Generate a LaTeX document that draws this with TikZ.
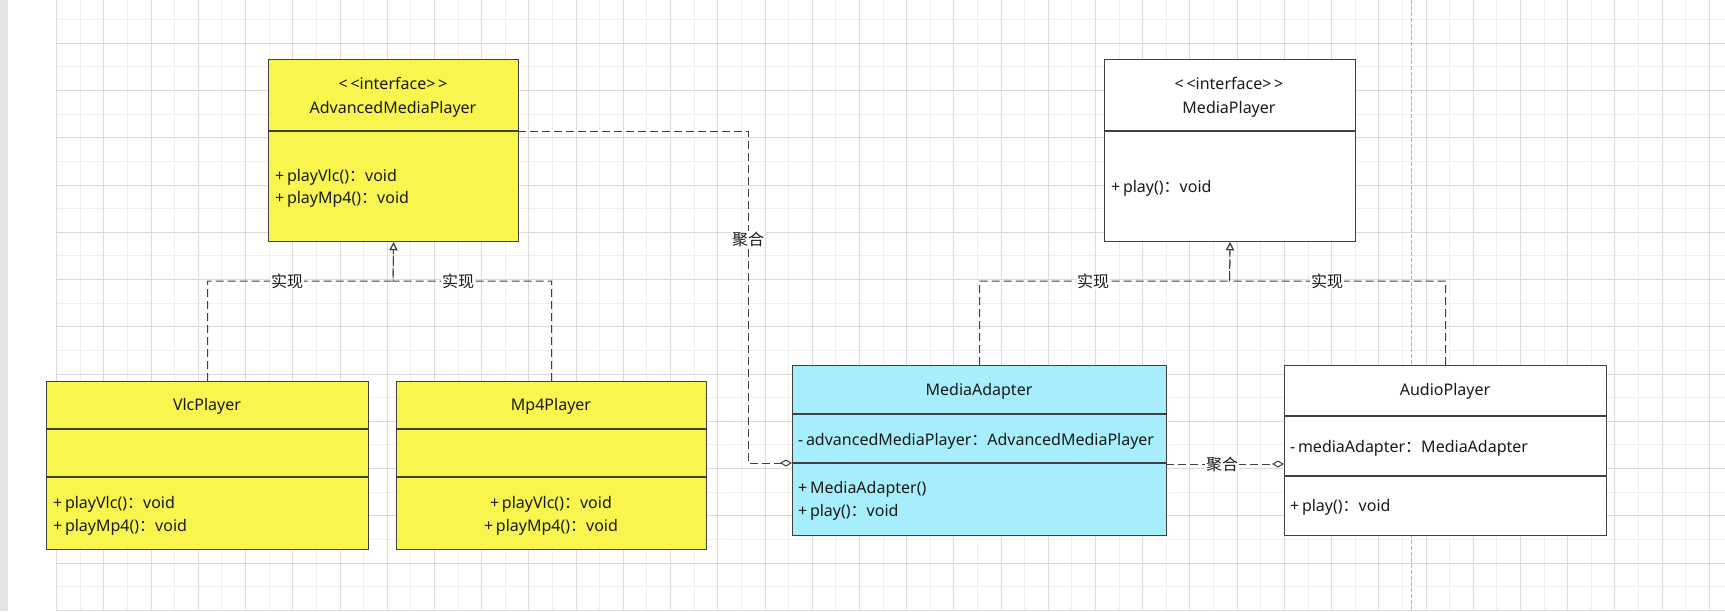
\documentclass[tikz,border=0pt]{standalone}
\usepackage{fontspec}
\setmainfont{Noto Sans}
\newfontfamily\cjk{Noto Sans CJK SC}
\usepackage{tikz}
\usetikzlibrary{arrows.meta}
\definecolor{umlyellow}{HTML}{F9F54F}
\definecolor{umlcyan}{HTML}{A6EEFC}
\definecolor{boxline}{HTML}{404040}
\definecolor{txt}{HTML}{1A1A1A}
\definecolor{gridmajor}{HTML}{DCDCDC}
\definecolor{gridminor}{HTML}{EFEFEF}
\definecolor{pagegray}{HTML}{E4E4E4}
\definecolor{breakgray}{HTML}{B4B4B4}
\newcommand{\fc}{{\cjk ：}}
\tikzset{
	classbox/.style={draw=boxline, line width=1.2pt, anchor=north west, inner sep=0pt},
	divider/.style={draw=boxline, line width=1.2pt},
	classname/.style={inner sep=0pt, text=txt, text height=13pt, text depth=2pt, font=\fontsize{16}{19}\selectfont},
	member/.style={classname, anchor=west},
	impl/.style={draw=boxline, line width=1pt, dash pattern=on 8pt off 4pt, -{Triangle[open, length=8pt, width=8pt]}},
	aggr/.style={draw=boxline, line width=1pt, dash pattern=on 8pt off 4pt, -{Diamond[open, length=12pt, width=7pt]}},
	lbl/.style={fill=white, inner sep=1pt, text=txt, font=\cjk\fontsize{16}{19}\selectfont}
}
\begin{document}
\begin{tikzpicture}[x=1pt, y=-1pt]
		\useasboundingbox (0,0) rectangle (1725,611);
		\fill[white] (0,0) rectangle (1725,611);
		\fill[pagegray] (0,0) rectangle (8,611);
		\foreach \i in {0,...,70} \draw[gridminor, line width=1pt] ({56.7+23.61*\i},0) -- ({56.7+23.61*\i},611);
		\foreach \j in {0,...,25} \draw[gridminor, line width=1pt] (56.7,{19.7+23.625*\j}) -- (1725,{19.7+23.625*\j});
		\foreach \i in {0,...,35} \draw[gridmajor, line width=1pt] ({56.7+47.22*\i},0) -- ({56.7+47.22*\i},611);
		\foreach \j in {0,...,12} \draw[gridmajor, line width=1pt] (56.7,{43.3+47.25*\j}) -- (1725,{43.3+47.25*\j});
		\draw[breakgray, line width=1pt, dash pattern=on 4pt off 2pt] (1411,0) -- (1411,611);

		% AdvancedMediaPlayer
		\node[classbox, fill=umlyellow, minimum width=250pt, minimum height=182pt] (amp) at (268,59) {};
		\draw[divider] (268,131) -- (518,131);
		\node[classname] (ampstereo) at (393,84) {<\,<interface>\,>};
		\node[classname] (ampname) at (393,108) {AdvancedMediaPlayer};
		\node[member] (ampvlc) at (275,176) {+\,playVlc()\fc void};
		\node[member] (ampmp4) at (275,198) {+\,playMp4()\fc void};

		% MediaPlayer
		\node[classbox, fill=white, minimum width=251pt, minimum height=182pt] (mp) at (1104,59) {};
		\draw[divider] (1104,131) -- (1355,131);
		\node[classname] (mpstereo) at (1229,84) {<\,<interface>\,>};
		\node[classname] (mpname) at (1229,108) {MediaPlayer};
		\node[member] (mpplay) at (1111,187) {+\,play()\fc void};

		% VlcPlayer
		\node[classbox, fill=umlyellow, minimum width=322pt, minimum height=168pt] (vlc) at (46,381) {};
		\draw[divider] (46,429) -- (368,429);
		\draw[divider] (46,477) -- (368,477);
		\node[classname] (vlcname) at (207,405) {VlcPlayer};
		\node[member] (vlcvlc) at (53,503) {+\,playVlc()\fc void};
		\node[member] (vlcmp4) at (53,526) {+\,playMp4()\fc void};

		% Mp4Player
		\node[classbox, fill=umlyellow, minimum width=310pt, minimum height=168pt] (mpf) at (396,381) {};
		\draw[divider] (396,429) -- (706,429);
		\draw[divider] (396,477) -- (706,477);
		\node[classname] (mpfname) at (551,405) {Mp4Player};
		\node[classname] (mpfvlc) at (551,503) {+\,playVlc()\fc void};
		\node[classname] (mpfmp4) at (551,526) {+\,playMp4()\fc void};

		% MediaAdapter
		\node[classbox, fill=umlcyan, minimum width=374pt, minimum height=170pt] (adapter) at (792,365) {};
		\draw[divider] (792,414) -- (1166,414);
		\draw[divider] (792,463) -- (1166,463);
		\node[classname] (adaptername) at (979,390) {MediaAdapter};
		\node[member] (adapterattr) at (798,440) {-\,advancedMediaPlayer\fc AdvancedMediaPlayer};
		\node[member] (adapterctor) at (798,488) {+\,MediaAdapter()};
		\node[member] (adapterplay) at (798,511) {+\,play()\fc void};

		% AudioPlayer
		\node[classbox, fill=white, minimum width=322pt, minimum height=170pt] (audio) at (1284,365) {};
		\draw[divider] (1284,416) -- (1606,416);
		\draw[divider] (1284,476) -- (1606,476);
		\node[classname] (audioname) at (1445,390) {AudioPlayer};
		\node[member] (audioattr) at (1290,447) {-\,mediaAdapter\fc MediaAdapter};
		\node[member] (audioplay) at (1290,506) {+\,play()\fc void};

		% connectors
		\coordinate (ampbus) at (393,281);
		\coordinate (mpbus) at (1229.5,281);
		\draw[impl] (vlc.north) |- (ampbus) -- (amp.south);
		\draw[impl] (mpf.north) |- (ampbus) -- (amp.south);
		\draw[impl] (adapter.north) |- (mpbus) -- (mp.south);
		\draw[impl] (audio.north) |- (mpbus) -- (mp.south);
		\node[lbl] (impla) at (287,281) {实现};
		\node[lbl] (implb) at (458,281) {实现};
		\node[lbl] (implc) at (1093,281) {实现};
		\node[lbl] (impld) at (1327,281) {实现};

		\coordinate (ampout) at (518,131);
		\coordinate (aggrturn) at (748,463);
		\coordinate (adapterin) at (792,463);
		\coordinate (adapterout) at (1166,464);
		\coordinate (audioin) at (1284,464);
		\draw[aggr] (ampout) -| (aggrturn) -- (adapterin);
		\draw[aggr] (adapterout) -- (audioin);
		\node[lbl] (aggra) at (748,239) {聚合};
		\node[lbl] (aggrb) at (1222,464) {聚合};
	\end{tikzpicture}
\end{document}
